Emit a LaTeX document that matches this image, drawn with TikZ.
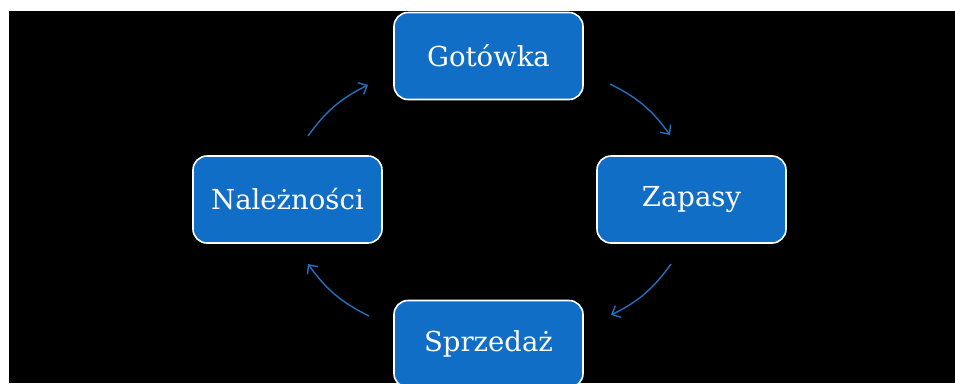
\documentclass[tikz,border=0pt]{standalone}
\usepackage{fontspec}
\setmainfont{DejaVu Serif}
\usetikzlibrary{arrows.meta}
\definecolor{boxblue}{RGB}{16,110,198}
\definecolor{arrblue}{RGB}{36,110,190}
\tikzset{
  cyclebox/.style={draw=white, line width=1.6pt, fill=boxblue, rounded corners=14pt,
    minimum width=189pt, minimum height=87pt, inner sep=0pt,
    text=white, font=\fontsize{27.5}{30}\selectfont},
  cyclearrow/.style={draw=arrblue, line width=1.4pt, -{Straight Barb[length=7pt,width=13pt]}}
}
\begin{document}
\begin{tikzpicture}[x=1pt,y=-1pt]
\useasboundingbox (0,0) rectangle (955,383);
\fill[white] (0,0) rectangle (955,383);
\clip (0,0) rectangle (955,383);
\fill[black] (9,11) rectangle (955,383);
\node[cyclebox] (got) at (488.5,56) {Gotówka};
\node[cyclebox] (zap) at (691.5,199.5) {Zapasy};
\node[cyclebox] (spr) at (488.5,344) {Sprzedaż};
\node[cyclebox] (nal) at (287.5,199.5) {Należności};
\coordinate (a1s) at (308,136);
\coordinate (a1e) at (368,85);
\coordinate (a2s) at (610,84);
\coordinate (a2e) at (670,135);
\coordinate (a3s) at (671,264);
\coordinate (a3e) at (611,315);
\coordinate (a4s) at (369,316);
\coordinate (a4e) at (308,264);
\draw[cyclearrow] (a1s) to[bend left=14] (a1e);
\draw[cyclearrow] (a2s) to[bend left=14] (a2e);
\draw[cyclearrow] (a3s) to[bend left=14] (a3e);
\draw[cyclearrow] (a4s) to[bend left=14] (a4e);
\end{tikzpicture}
\end{document}
